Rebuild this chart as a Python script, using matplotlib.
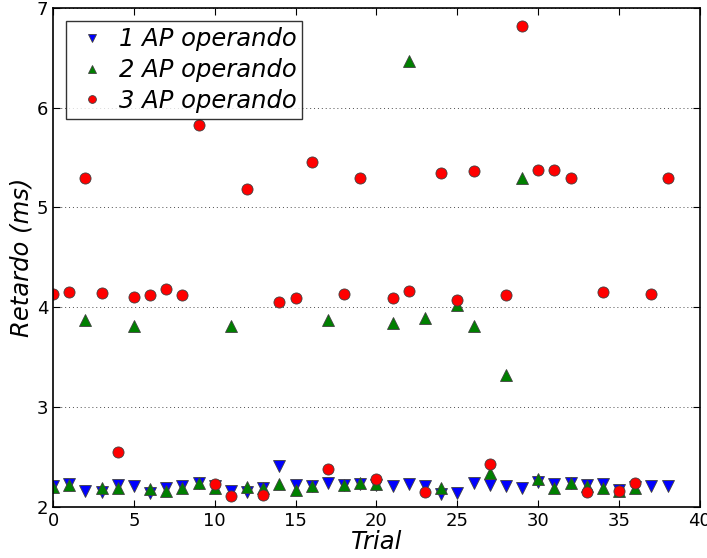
import matplotlib
matplotlib.use("Agg")
import matplotlib.pyplot as plt

# retardo medido en cada intento (ms)
ap1_trial = list(range(39))
ap1 = [2.21, 2.23, 2.16, 2.15, 2.22, 2.21, 2.14, 2.19, 2.21, 2.24,
       2.21, 2.16, 2.15, 2.19, 2.41, 2.22, 2.21, 2.24, 2.22, 2.23,
       2.22, 2.21, 2.23, 2.21, 2.13, 2.14, 2.24, 2.22, 2.21, 2.19,
       2.25, 2.23, 2.24, 2.22, 2.23, 2.17, 2.20, 2.21, 2.21]

ap2_trial = list(range(37))
ap2 = [2.20, 2.22, 3.87, 2.19, 2.19, 3.81, 2.18, 2.16, 2.19, 2.24,
       2.19, 3.81, 2.20, 2.19, 2.23, 2.17, 2.21, 3.87, 2.22, 2.24,
       2.23, 3.84, 6.47, 3.89, 2.19, 4.02, 3.81, 2.34, 3.32, 5.30,
       2.28, 2.19, 2.24, 2.21, 2.19, 2.16, 2.19]

ap3_trial = list(range(39))
ap3 = [4.13, 4.15, 5.30, 4.14, 2.55, 4.10, 4.12, 4.18, 4.12, 5.83,
       2.23, 2.11, 5.19, 2.12, 4.05, 4.09, 5.46, 2.38, 4.13, 5.30,
       2.28, 4.09, 4.16, 2.15, 5.35, 4.07, 5.37, 2.43, 4.12, 6.82,
       5.38, 5.38, 5.30, 2.15, 4.15, 2.16, 2.24, 4.13, 5.30]

fig = plt.figure(figsize=(7.07, 5.58), dpi=100)
ax = fig.add_axes([0.075, 0.0914, 0.915, 0.8946])

ax.plot(ap1_trial, ap1, 'v', color='blue', markersize=8, markeredgecolor='0.25',
        markeredgewidth=0.6, label='1 AP operando')
ax.plot(ap2_trial, ap2, '^', color='green', markersize=8, markeredgecolor='0.25',
        markeredgewidth=0.6, label='2 AP operando')
ax.plot(ap3_trial, ap3, 'o', color='red', markersize=8, markeredgecolor='0.25',
        markeredgewidth=0.6, label='3 AP operando')

ax.set_xlim(0, 40)
ax.set_ylim(2, 7)
ax.set_xticks(range(0, 41, 5))
ax.set_yticks(range(2, 8))
ax.tick_params(direction='in', top=True, right=True, labelsize=13, length=5)
ax.yaxis.grid(True, linestyle=(0, (1, 3)), color='0.3', linewidth=0.7)
for s in ax.spines.values():
    s.set_linewidth(1.2)

ax.set_xlabel('Trial', fontsize=17.5, style='italic', labelpad=0)
ax.set_ylabel('Retardo (ms)', fontsize=17.5, style='italic', labelpad=2)

leg = ax.legend(loc='upper left', numpoints=1, markerscale=0.7, fancybox=False,
                prop={'size': 17.5, 'style': 'italic'}, borderaxespad=0.55,
                handlelength=1.6, handletextpad=0.3, labelspacing=0.28,
                borderpad=0.25)
leg.get_frame().set_edgecolor('black')
leg.get_frame().set_linewidth(1.0)

fig.savefig('out.png', dpi=100)
